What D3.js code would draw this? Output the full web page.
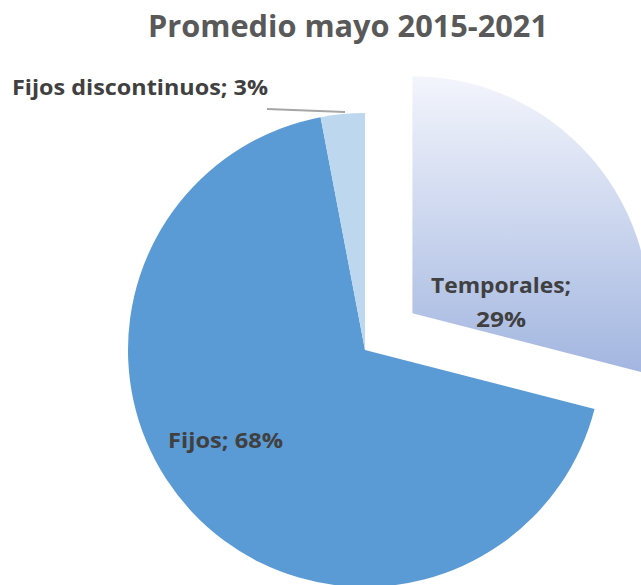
<!DOCTYPE html>
<html>
<head>
<meta charset="utf-8">
<script src="https://cdn.jsdelivr.net/npm/d3@7"></script>
<style>
  body { margin: 0; background: #fff; }
  svg { display: block; font-family: "Open Sans", Lato, sans-serif; }
</style>
</head>
<body>
<svg id="chart" width="641" height="585"></svg>
<script>
// datos
const categories = ["Temporales", "Fijos", "Fijos discontinuos"];
const values = [29, 68, 3];
const title = "Promedio mayo 2015-2021";

const width = 641, height = 585;
const cx = 365, cy = 350, radius = 237;
const explode = 60; // Temporales se separa del centro

const svg = d3.select("#chart");

const defs = svg.append("defs");
const grad = defs.append("linearGradient")
    .attr("id", "tempGrad")
    .attr("x1", 0).attr("y1", 0)
    .attr("x2", 0).attr("y2", 1);
grad.append("stop").attr("offset", "0%").attr("stop-color", "#f3f5fc");
grad.append("stop").attr("offset", "100%").attr("stop-color", "#a3b6e0");

const color = d3.scaleOrdinal()
    .domain(categories)
    .range(["url(#tempGrad)", "#5b9bd5", "#bdd7ee"]);

const data = categories.map((c, i) => ({ name: c, value: values[i] }));

const pie = d3.pie().sort(null).value(d => d.value);
const arc = d3.arc().innerRadius(0).outerRadius(radius);
const arcs = pie(data);

const offset = d => {
    if (d.data.name !== "Temporales") return [0, 0];
    const a = (d.startAngle + d.endAngle) / 2;
    return [Math.sin(a) * explode, -Math.cos(a) * explode];
};

const g = svg.append("g").attr("transform", `translate(${cx},${cy})`);

g.selectAll("path.slice")
    .data(arcs)
    .enter()
    .append("path")
    .attr("class", "slice")
    .attr("d", arc)
    .attr("transform", d => `translate(${offset(d)})`)
    .style("fill", d => color(d.data.name));

// titulo
svg.append("text")
    .attr("x", 348).attr("y", 37)
    .attr("text-anchor", "middle")
    .attr("textLength", 400)
    .attr("lengthAdjust", "spacingAndGlyphs")
    .style("font-size", "30px")
    .style("font-weight", "bold")
    .style("fill", "#595959")
    .text(title);

// etiquetas (coordenadas de pagina, como en el original)
const labelPos = {
    "Temporales": { x: 501, y: 293, w: 140, w2: 50 },
    "Fijos": { x: 225.5, y: 448, w: 115 },
    "Fijos discontinuos": { x: 140, y: 95, w: 256 }
};

arcs.forEach(d => {
    const p = labelPos[d.data.name];
    const t = svg.append("text")
        .attr("text-anchor", "middle")
        .style("font-size", "21px")
        .style("font-weight", "bold")
        .style("fill", "#404040");
    if (d.data.name === "Temporales") {
        t.append("tspan").attr("x", p.x).attr("y", p.y)
            .attr("textLength", p.w).attr("lengthAdjust", "spacingAndGlyphs")
            .text(`${d.data.name};`);
        t.append("tspan").attr("x", p.x).attr("y", p.y + 34)
            .attr("textLength", p.w2).attr("lengthAdjust", "spacingAndGlyphs")
            .text(`${d.value}%`);
    } else {
        t.attr("x", p.x).attr("y", p.y)
            .attr("textLength", p.w).attr("lengthAdjust", "spacingAndGlyphs")
            .text(`${d.data.name}; ${d.value}%`);
    }
});

// linea guia de Fijos discontinuos
svg.append("line")
    .attr("x1", 267).attr("y1", 109)
    .attr("x2", 345).attr("y2", 112)
    .style("stroke", "#a6a6a6")
    .style("stroke-width", 2);
</script>
</body>
</html>
